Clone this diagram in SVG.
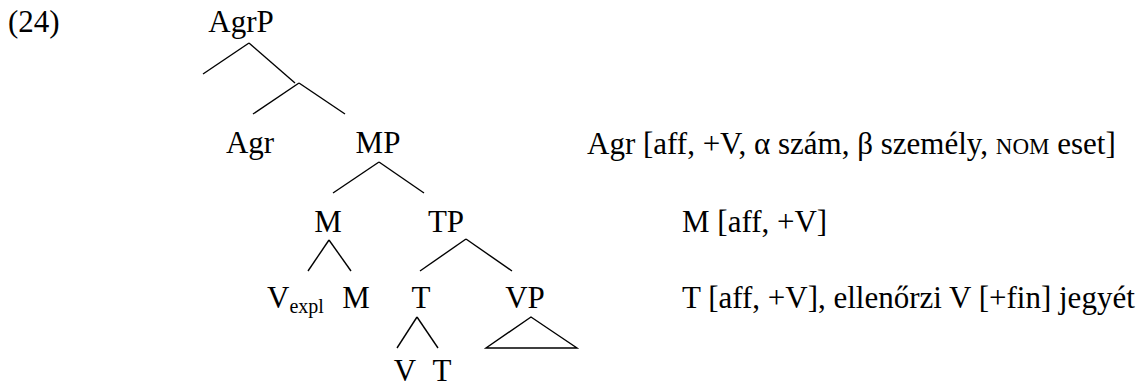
<svg xmlns="http://www.w3.org/2000/svg" width="1148" height="388" viewBox="0 0 1148 388">
<style>
text{font-family:"Liberation Serif",Tinos,"Times New Roman",Times,"DejaVu Serif",serif;font-size:31px;fill:#000}
.c{text-anchor:middle}
.sub{font-size:20px}
.sc{font-size:23px}
.edge{stroke:#000;stroke-width:1.4;fill:none}
</style>
<rect width="1148" height="388" fill="#fff"/>
<text id="label24" x="8" y="32" font-family="Liberation Serif, serif">(24)</text>
<g id="connectors">
<line class="edge" x1="249" y1="43" x2="203" y2="74"/>
<line class="edge" x1="249" y1="43" x2="295" y2="83"/>
<line class="edge" x1="299" y1="83" x2="253" y2="114"/>
<line class="edge" x1="299" y1="83" x2="345" y2="114"/>
<line class="edge" x1="379" y1="162" x2="333" y2="193"/>
<line class="edge" x1="379" y1="162" x2="424" y2="193"/>
<line class="edge" x1="329" y1="240" x2="308" y2="271"/>
<line class="edge" x1="329" y1="240" x2="351" y2="271"/>
<line class="edge" x1="466" y1="239" x2="420" y2="271"/>
<line class="edge" x1="466" y1="239" x2="512" y2="271"/>
<line class="edge" x1="417" y1="317" x2="397" y2="348"/>
<line class="edge" x1="417" y1="317" x2="438" y2="348"/>
<polygon class="edge" points="531,317 486,348 577,348"/>
</g>
<g id="n-AgrP"><text class="c" x="241" y="32">AgrP</text></g>
<g id="n-Agr"><text class="c" x="250" y="153">Agr</text></g>
<g id="n-MP"><text class="c" x="378" y="153">MP</text></g>
<g id="n-M"><text class="c" x="328" y="232">M</text></g>
<g id="n-TP"><text class="c" x="446" y="232">TP</text></g>
<g id="n-Vexpl"><text x="267" y="308">V<tspan class="sub" dy="5">expl</tspan></text></g>
<g id="n-M2"><text class="c" x="356" y="308">M</text></g>
<g id="n-T"><text class="c" x="421" y="308">T</text></g>
<g id="n-VP"><text class="c" x="525" y="308">VP</text></g>
<g id="n-V"><text class="c" x="405" y="381">V</text></g>
<g id="n-T2"><text class="c" x="442" y="381">T</text></g>
<g id="notes">
<text x="587" y="154">Agr [aff, +V, α szám, β személy, <tspan class="sc">NOM</tspan> eset]</text>
<text x="682" y="232">M [aff, +V]</text>
<text x="682" y="308">T [aff, +V], ellenőrzi V [+fin] jegyét</text>
</g>
</svg>
